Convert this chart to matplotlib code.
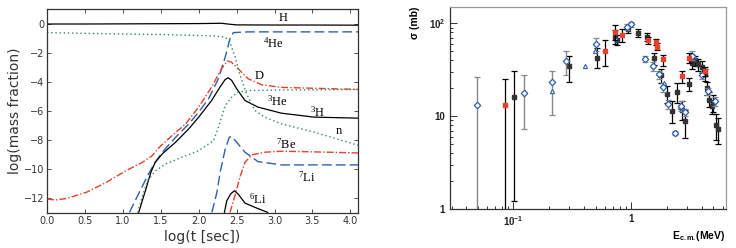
import matplotlib
matplotlib.use("Agg")
import matplotlib.pyplot as plt
from matplotlib.ticker import FixedLocator, FixedFormatter, LogLocator, NullFormatter

plt.rcParams['mathtext.fontset'] = 'custom'
plt.rcParams['mathtext.rm'] = 'Liberation Serif'
plt.rcParams['mathtext.it'] = 'Liberation Serif:italic'
plt.rcParams['mathtext.bf'] = 'Liberation Sans:bold'

# ---------------- Left panel data: log(mass fraction) vs log(t) ----------------
h_x = [0.0, 0.5, 1.0, 1.5, 2.0, 2.3, 2.4, 2.5, 3.0, 3.5, 4.1]
h_y = [-0.03, -0.03, -0.02, -0.01, 0.0, 0.02, -0.04, -0.09, -0.1, -0.1, -0.11]

he4_x = [1.087, 1.217, 1.326, 1.413, 1.52, 1.696, 1.87, 2.0, 2.13, 2.26, 2.35, 2.413, 2.457, 2.65, 4.1]
he4_y = [-12.96, -11.58, -10.44, -9.63, -8.83, -7.8, -6.88, -6.08, -5.16, -3.78, -2.29, -1.03, -0.62, -0.57, -0.57]

d_x = [0.0, 0.109, 0.26, 0.52, 0.78, 1.04, 1.26, 1.39, 1.48, 1.65, 1.83, 2.0, 2.17, 2.30, 2.38, 2.43, 2.52, 2.65, 2.83, 3.09, 3.74, 4.1]
d_y = [-12.04, -12.11, -12.0, -11.58, -10.9, -10.1, -9.52, -9.06, -8.49, -7.68, -6.88, -5.73, -4.36, -3.1, -2.57, -2.64, -3.1, -3.78, -4.2, -4.38, -4.47, -4.52]

h3_x = [1.209, 1.304, 1.37, 1.426, 1.52, 1.696, 1.87, 2.0, 2.17, 2.28, 2.35, 2.39, 2.435, 2.5, 2.61, 2.78, 3.09, 3.52, 4.1]
h3_y = [-12.96, -11.35, -10.2, -9.52, -8.94, -8.14, -7.22, -6.42, -5.28, -4.36, -3.83, -3.72, -3.9, -4.47, -5.28, -5.73, -6.15, -6.42, -6.49]

n_x = [0.0, 0.7, 1.57, 2.22, 2.35, 2.41, 2.48, 2.54, 2.63, 2.74, 2.87, 3.09, 3.52, 4.1]
n_y = [-0.62, -0.69, -0.76, -0.85, -0.94, -1.26, -2.29, -3.44, -4.82, -5.96, -6.42, -6.88, -7.45, -8.35]

he3_x = [1.196, 1.26, 1.326, 1.435, 1.565, 1.78, 2.0, 2.196, 2.26, 2.35, 2.435, 2.52, 2.7, 3.09, 4.1]
he3_y = [-12.96, -11.81, -10.78, -10.09, -9.63, -9.17, -8.72, -8.03, -7.11, -5.62, -5.05, -4.7, -4.59, -4.56, -4.52]

li7_x = [2.174, 2.24, 2.283, 2.35, 2.404, 2.435, 2.5, 2.61, 2.78, 3.09, 4.1]
li7_y = [-12.96, -11.58, -10.2, -8.6, -7.8, -7.75, -8.14, -8.83, -9.47, -9.7, -9.7]

be7_x = [2.413, 2.478, 2.543, 2.61, 2.7, 2.87, 3.09, 3.74, 4.1]
be7_y = [-12.96, -11.81, -10.55, -9.52, -9.01, -8.83, -8.76, -8.83, -8.88]

li6_x = [2.339, 2.37, 2.42, 2.47, 2.52, 2.61, 2.74, 2.91]
li6_y = [-12.96, -12.16, -11.7, -11.47, -11.7, -12.32, -12.61, -12.96]

labels_text = ['H', r'$^{4}$He', 'D', r'$^{3}$He', r'$^{3}$H', 'n', r'$^{7}$Be', r'$^{7}$Li', r'$^{6}$Li']
labels_x = [3.11, 2.98, 2.8, 3.04, 3.57, 3.85, 3.15, 3.43, 2.78]
labels_y = [0.35, -1.38, -3.6, -5.35, -6.08, -7.34, -8.3, -10.55, -12.09]

# ---------------- Right panel data: sigma (mb) vs E_cm (MeV) ----------------
dia_x  = [0.0494, 0.123, 0.212, 0.28, 0.504, 0.92, 1.0, 1.315, 1.55, 1.74, 1.86, 2.05, 2.38, 2.66, 2.88, 3.28, 3.98, 4.54, 5.17]
dia_y  = [13.3, 17.7, 23.3, 38.9, 60.4, 92, 97.7, 41.6, 34.7, 28.2, 20.7, 13.4, 6.6, 13.0, 11.0, 45, 27.5, 18.6, 14.5]
dia_lo = [0.5, 7.2, 10.3, 28, 50, 85, 92, 38, 31, 25, 18, 12, 6.2, 11.5, 10, 40, 25, 17, 13]
dia_hi = [26.6, 27.7, 30.5, 50, 70, 98, 103, 45, 38, 31, 23, 15, 7, 14.5, 12, 50, 30, 20, 16]

red_x  = [0.0855, 0.601, 0.731, 0.833, 1.386, 1.62, 1.67, 1.88, 2.69, 3.13, 4.25]
red_y  = [13.3, 50.3, 81.3, 74.8, 66, 63, 56, 40.8, 26.8, 42.3, 30.6]
red_lo = [0.5, 34.7, 66, 62.8, 60, 58, 51, 35, 23, 37, 27]
red_hi = [25.3, 66, 96, 86.5, 72, 68, 61, 46, 31, 48, 34]

blk_x  = [0.102, 0.299, 0.518, 0.731, 0.756, 0.937, 1.154, 1.36, 1.57, 1.80, 2.01, 2.22, 2.44, 2.69, 2.88,
          3.13, 3.28, 3.5, 3.73, 3.98, 4.25, 4.4, 4.63, 4.85, 5.0, 5.28, 5.52]
blk_y  = [16.0, 34.7, 42.6, 71.2, 66, 86, 79.4, 71.8, 41.9, 27.5, 17.4, 11.5, 18.2, 11.8, 8.8,
          22.3, 37.7, 39.8, 36.1, 33.8, 28.2, 20.2, 15.1, 12.8, 13.9, 8.0, 7.3]
blk_lo = [1.21, 23.5, 33.3, 60, 58, 78, 72, 65, 36, 23, 14, 8.5, 14, 9, 5.8,
          18.5, 32, 35, 31, 29, 24, 17, 12.5, 10.5, 11, 5.5, 5.0]
blk_hi = [30.6, 45, 54.7, 85, 75, 94, 86, 78, 48, 32, 21, 14.5, 22.5, 14.5, 11.8,
          26, 43, 45, 41, 39, 32, 23.5, 18, 15, 17, 10.5, 9.6]

tri_x = [0.215, 0.406, 0.49, 0.74, 1.9, 2.6, 3.4]
tri_y = [18.6, 34.7, 50, 68, 23, 12.5, 44]

# ---------------- Figure ----------------
fig = plt.figure(figsize=(7.36, 2.48), dpi=100)
ax1 = fig.add_axes([47/736, 1-213/248, (358-47)/736, (213-9)/248])
ax2 = fig.add_axes([450/736, 1-209/248, (726-450)/736, (209-7)/248])

blue = '#2f5fb0'
red = '#e8402a'
green = '#2e8b57'

ax1.plot(h_x, h_y, color='black', lw=0.9)
ax1.plot(he4_x, he4_y, color=blue, lw=1.0, ls=(0, (7, 3)))
ax1.plot(d_x, d_y, color=red, lw=1.0, ls=(0, (5, 1.5, 1, 1.5)))
ax1.plot(h3_x, h3_y, color='black', lw=0.9)
ax1.plot(n_x, n_y, color=green, lw=1.0, ls=(0, (1, 2)))
ax1.plot(he3_x, he3_y, color=green, lw=1.0, ls=(0, (1, 2)))
ax1.plot(li7_x, li7_y, color=blue, lw=1.0, ls=(0, (7, 3)))
ax1.plot(be7_x, be7_y, color=red, lw=1.0, ls=(0, (5, 1.5, 1, 1.5)))
ax1.plot(li6_x, li6_y, color='black', lw=0.9)

for t, x, y in zip(labels_text, labels_x, labels_y):
    ax1.text(x, y, t, fontsize=9, family='Liberation Serif', ha='center', va='center')

ax1.set_xlim(0, 4.1)
ax1.set_ylim(-13, 1)
ax1.set_xticks([0.0, 0.5, 1.0, 1.5, 2.0, 2.5, 3.0, 3.5, 4.0])
ax1.set_yticks([0, -2, -4, -6, -8, -10, -12])
ax1.tick_params(direction='in', top=True, right=True, labelsize=7, length=3, width=0.6, colors='#333333', labelcolor='#333333', pad=2)
for s in ax1.spines.values():
    s.set_color('#333333')
    s.set_linewidth(0.9)
ax1.set_xlabel('log(t [sec])', fontsize=10, color='#333333', labelpad=3)
ax1.set_ylabel('log(mass fraction)', fontsize=10, color='#333333', labelpad=1)

# Right panel
ax2.set_xscale('log')
ax2.set_yscale('log')
ax2.errorbar(dia_x, dia_y, yerr=[[y - l for y, l in zip(dia_y, dia_lo)], [h - y for y, h in zip(dia_y, dia_hi)]],
             fmt='D', ms=3.3, mfc='white', mec=blue, mew=0.9, ecolor='#888888', elinewidth=1.0, capsize=2.5, capthick=1.0, zorder=3)
ax2.errorbar(blk_x, blk_y, yerr=[[y - l for y, l in zip(blk_y, blk_lo)], [h - y for y, h in zip(blk_y, blk_hi)]],
             fmt='s', ms=3.5, mfc='#333333', mec='#333333', ecolor='black', elinewidth=0.9, capsize=2.5, capthick=0.9, zorder=2)
ax2.errorbar(red_x, red_y, yerr=[[y - l for y, l in zip(red_y, red_lo)], [h - y for y, h in zip(red_y, red_hi)]],
             fmt='s', ms=3.5, mfc=red, mec=red, ecolor='black', elinewidth=0.9, capsize=2.5, capthick=0.9, zorder=4)
ax2.plot(tri_x, tri_y, '^', ms=3.0, mfc='white', mec=blue, mew=0.8, ls='none', zorder=3)

ax2.set_xlim(0.029, 6.4)
ax2.set_ylim(1, 150)
ax2.xaxis.set_major_locator(FixedLocator([0.1, 1]))
ax2.xaxis.set_major_formatter(FixedFormatter([r'$\mathbf{10^{-1}}$', '1']))
ax2.xaxis.set_minor_locator(LogLocator(base=10, subs=range(2, 10)))
ax2.xaxis.set_minor_formatter(NullFormatter())
ax2.yaxis.set_major_locator(FixedLocator([1, 10, 100]))
ax2.yaxis.set_major_formatter(FixedFormatter(['1', '10', r'$\mathbf{10^{2}}$']))
ax2.yaxis.set_minor_locator(LogLocator(base=10, subs=range(2, 10)))
ax2.yaxis.set_minor_formatter(NullFormatter())
ax2.tick_params(which='both', direction='in', labelsize=7, width=0.7, colors='#333333', labelcolor='#222222')
ax2.tick_params(which='major', length=5)
ax2.tick_params(which='minor', length=2.5)
for lab in ax2.get_xticklabels() + ax2.get_yticklabels():
    lab.set_fontweight('bold')
    lab.set_family('Liberation Sans')
ax2.spines['left'].set_color('#333333')
ax2.spines['bottom'].set_color('#333333')
ax2.spines['top'].set_color('#999999')
ax2.spines['right'].set_color('#999999')
for s in ax2.spines.values():
    s.set_linewidth(0.9)
ax2.set_ylabel('σ (mb)', fontsize=7.5, fontweight='bold', family='Liberation Sans', loc='top', labelpad=6)
ax2.set_xlabel(r'E$_{\mathbf{c.m.}}$(MeV)', fontsize=7.5, fontweight='bold', family='Liberation Sans', loc='right', labelpad=1)

fig.savefig('out.png', dpi=100)
